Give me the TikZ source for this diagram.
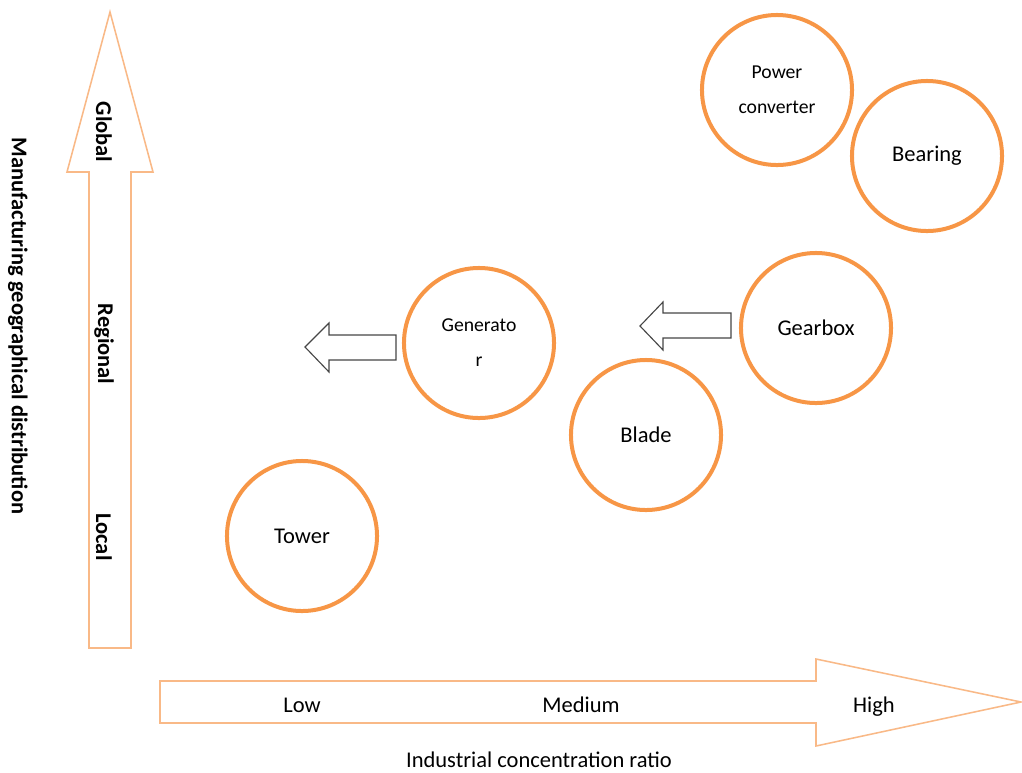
\documentclass[tikz,border=0pt]{standalone}
\usepackage{fontspec}
\setmainfont{Carlito}
\usetikzlibrary{positioning}
\definecolor{ringorange}{RGB}{247,150,70}
\definecolor{axisorange}{RGB}{249,185,135}
\definecolor{shapegray}{RGB}{70,70,70}

\begin{document}
\begin{tikzpicture}[
    x=0.025cm, y=-0.025cm,
    every node/.style={
        font=\fontsize{16}{19}\selectfont
    },
    part/.style={
        draw=ringorange,
        line width=0.1cm,
        circle,
        minimum size=3.75cm,
        inner sep=0pt,
        align=center
    },
    smalltext/.style={font=\fontsize{14}{25}\selectfont},
    level/.style={anchor=base},
    axis/.style={draw=axisorange, line width=1.1pt, fill=white},
    shiftarrow/.style={draw=shapegray, line width=0.8pt, fill=white},
    axislabel/.style={font=\fontsize{16}{19}\selectfont\bfseries, rotate=-90}
]
    \useasboundingbox (0,0) rectangle (1022,772);

    % the two axes
    \draw[axis] (89,648) -- (89,172) -- (67,172) -- (110,12) -- (153,172) -- (131,172) -- (131,648) -- cycle;
    \draw[axis] (160,681) -- (816,681) -- (816,659) -- (1021,702) -- (816,746) -- (816,723) -- (160,723) -- cycle;

    \node[axislabel] (global) at (104,132) {Global};
    \node[axislabel] (regional) at (104,344) {Regional};
    \node[axislabel] (local) at (104,537) {Local};
    \node[axislabel] (ylabel) at (18,326) {Manufacturing geographical distribution};

    \node[level] (low) at (302,712) {Low};
    \node[level] (medium) at (581,712) {Medium};
    \node[level] (high) at (874,712) {High};
    \node (xlabel) at (539,760) {Industrial concentration ratio};

    % components
    \node[part, smalltext] (converter) at (777,90) {Power\\converter};
    \node[part] (bearing) at (927,156) {Bearing};
    \node[part] (gearbox) at (816,328) {Gearbox};
    \node[part, smalltext] (generator) at (479,343) {Generato\\r};
    \node[part] (blade) at (646,435) {Blade};
    \node[part] (tower) at (302,536) {Tower};

    % shift arrows
    \draw[shiftarrow] (396,335) -- (329,335) -- (329,323) -- (305,347) -- (329,372) -- (329,360) -- (396,360) -- cycle;
    \draw[shiftarrow] (731,313) -- (663,313) -- (663,302) -- (640,326) -- (663,350) -- (663,338) -- (731,338) -- cycle;

\end{tikzpicture}
\end{document}
